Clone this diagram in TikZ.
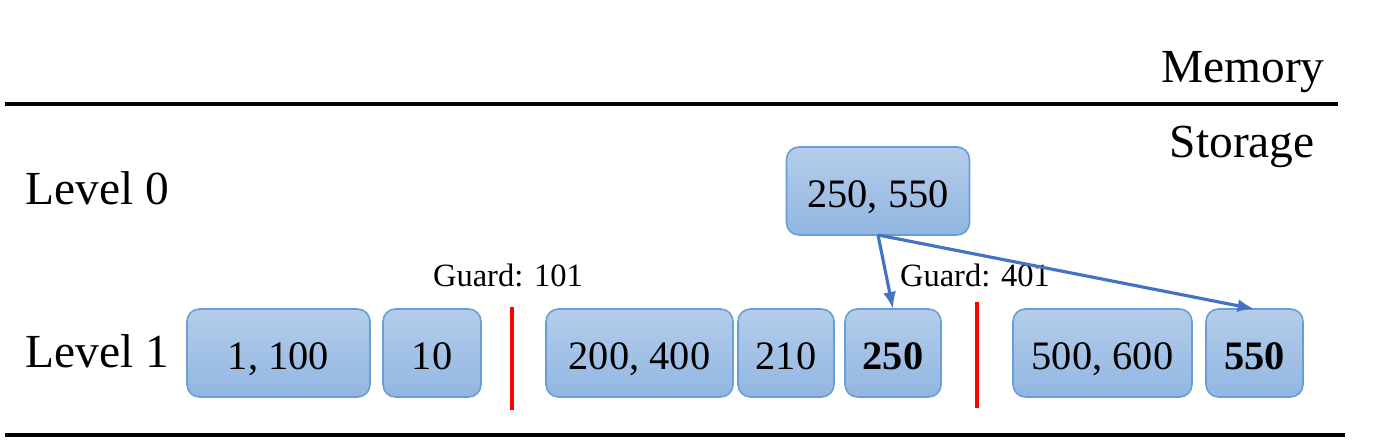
\documentclass[tikz,border=0pt]{standalone}
\usepackage{fontspec}
\setmainfont{Liberation Serif}
\usetikzlibrary{arrows.meta,positioning}
\definecolor{keytop}{RGB}{180,205,234}
\definecolor{keybot}{RGB}{146,182,226}
\definecolor{keyline}{RGB}{104,158,212}
\definecolor{ptrblue}{RGB}{68,114,196}

\begin{document}
\begin{tikzpicture}[
      arr/.style={-{Latex[length=0.34cm,width=0.26cm]}, line width=1.8pt, ptrblue},
      keybox/.style={draw=keyline, line width=0.9pt, rounded corners=0.25cm,
                     top color=keytop, bottom color=keybot, inner sep=0pt, outer sep=0pt,
                     minimum height=1.76cm, text height=18.6pt, text depth=0pt,
                     font=\fontsize{23}{27}\selectfont},
      tier/.style={inner sep=0pt, font=\fontsize{27}{32}\selectfont},
      guardtxt/.style={inner sep=0pt, font=\fontsize{18.5}{22}\selectfont},
      guardline/.style={draw=red, line width=2.2pt},
      sepline/.style={draw=black, line width=2.3pt}
    ]
    \useasboundingbox (0,0) rectangle (27.92,8.9);
    % memory / storage split
    \draw[sepline] (0.1,6.82) -- (26.76,6.82);
    \draw[sepline] (0.1,0.2) -- (26.9,0.2);
    \node[tier, anchor=base east] (mem) at (26.5,7.24) {Memory};
    \node[tier, anchor=base east] (sto) at (26.3,5.74) {Storage};
    % level names
    \node[tier, anchor=base west] (lv0) at (0.5,4.8) {Level 0};
    \node[tier, anchor=base west] (lv1) at (0.5,1.54) {Level 1};
    % level 0
    \node[keybox, minimum width=3.66cm] (top) at (17.56,5.08) {250, 550};
    % level 1
    \node[keybox, minimum width=3.66cm, anchor=west] (k1) at (3.74,1.84) {1, 100};
    \node[keybox, minimum width=1.96cm, right=0.26cm of k1] (k2) {10};
    \node[keybox, minimum width=3.74cm, right=1.30cm of k2] (k3) {200, 400};
    \node[keybox, minimum width=1.92cm, right=0.10cm of k3] (k4) {210};
    \node[keybox, minimum width=1.92cm, right=0.22cm of k4] (k5) {\textbf{250}};
    \node[keybox, minimum width=3.58cm, right=1.44cm of k5] (k6) {500, 600};
    \node[keybox, minimum width=1.94cm, right=0.28cm of k6] (k7) {\textbf{550}};
    % guards
    \draw[guardline] (10.24,0.7) -- (10.24,2.76);
    \draw[guardline] (19.54,0.74) -- (19.54,2.86);
    \node[guardtxt, anchor=base] (g1) at (10.16,3.16) {Guard: 101};
    \node[guardtxt, anchor=base] (g2) at (19.5,3.16) {Guard: 401};
    % pointers
    \draw[arr] (top.south) -- (k5.north);
    \draw[arr] (top.south) -- (k7.north);
  \end{tikzpicture}
\end{document}
